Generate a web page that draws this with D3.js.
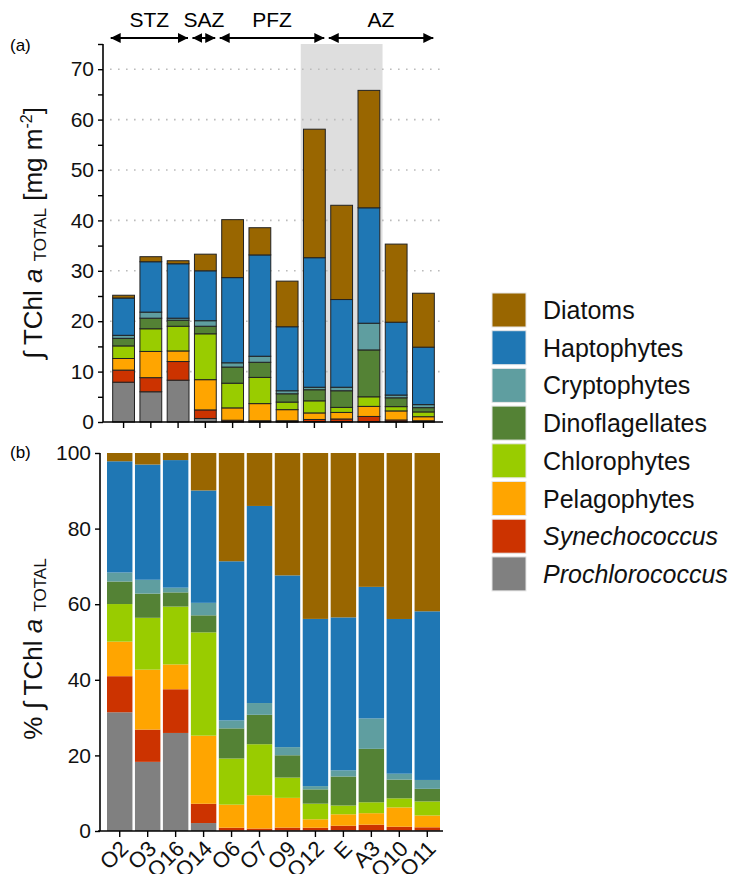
<!DOCTYPE html>
<html>
<head>
<meta charset="utf-8">
<script src="https://cdn.jsdelivr.net/npm/d3@7"></script>
<style>
  body { margin: 0; background: #fff; }
  svg { font-family: "Liberation Sans", Arial, sans-serif; }
</style>
</head>
<body>
<script>
// stations along the transect, west to east
const stations = ["O2", "O3", "O16", "O14", "O6", "O7", "O9", "O12", "E", "A3", "O10", "O11"];

// integrated Chl a per group [mg m-2] (a) and (b)
const prochlorococcus = [7.9, 6.0, 8.3, 0.7, 0.05, 0.05, 0.05, 0.1, 0.1, 0.1, 0.05, 0.05];
const synechococcus   = [2.4, 2.8, 3.7, 1.7, 0.3, 0.2, 0.2, 0.4, 0.5, 1.0, 0.35, 0.2];
const pelagophytes    = [2.3, 5.2, 2.1, 6.0, 2.45, 3.4, 2.2, 1.3, 1.3, 2.0, 1.8, 0.8];
const chlorophytes    = [2.5, 4.5, 4.9, 9.1, 4.9, 5.2, 1.5, 2.4, 1.0, 1.9, 0.85, 0.95];
const dinoflagellates = [1.5, 2.1, 1.2, 1.5, 3.2, 3.0, 1.65, 2.2, 3.3, 9.3, 1.75, 0.85];
const cryptophytes    = [0.6, 1.2, 0.4, 1.1, 0.85, 1.2, 0.6, 0.5, 0.7, 5.3, 0.55, 0.6];
const haptophytes     = [7.4, 10.0, 10.8, 9.9, 16.9, 20.1, 12.7, 25.7, 17.4, 22.9, 14.45, 11.4];
const diatoms         = [0.55, 1.0, 0.6, 3.3, 11.5, 5.4, 9.05, 25.5, 18.7, 23.3, 15.5, 10.7];

// stacking order, bottom first
const groups = ["Prochlorococcus", "Synechococcus", "Pelagophytes", "Chlorophytes",
                "Dinoflagellates", "Cryptophytes", "Haptophytes", "Diatoms"];
const series = [prochlorococcus, synechococcus, pelagophytes, chlorophytes,
                dinoflagellates, cryptophytes, haptophytes, diatoms];
const italicGroups = ["Prochlorococcus", "Synechococcus"];

// hydrographic zones
const zoneNames = ["STZ", "SAZ", "PFZ", "AZ"];
const zoneFirst = ["O2", "O14", "O6", "E"];
const zoneLast  = ["O16", "O14", "O12", "O11"];
const shadeFirst = "O12", shadeLast = "A3";

const yTicksA = [0, 5, 10, 15, 20, 25, 30, 35, 40, 45, 50, 55, 60, 65, 70, 75];
const yTicksB = [0, 20, 40, 60, 80, 100];

const color = d3.scaleOrdinal()
    .domain(groups)
    .range(["#808080", "#cc3300", "#ffa500", "#99cc00", "#548235", "#5f9ea0", "#1f77b4", "#996600"]);

const rows = stations.map(function (s, i) {
    const r = {station: s};
    groups.forEach(function (g, j) { r[g] = series[j][i]; });
    return r;
});

const width = 745, height = 874;

const svg = d3.select("body").append("svg")
    .attr("width", width)
    .attr("height", height);

// ---------- panel (a): absolute ----------
const xA = d3.scaleBand().domain(stations).range([104.5, 442.5])
    .paddingInner(0.2).paddingOuter(0.3);
const yA = d3.scaleLinear().domain([0, 75]).range([422, 44]);

const stackA = d3.stack().keys(groups)(rows);

// shaded stations
svg.append("rect")
    .attr("x", xA(shadeFirst) - xA.step() * 0.1)
    .attr("y", yA(75))
    .attr("width", xA(shadeLast) + xA.bandwidth() + xA.step() * 0.2 - xA(shadeFirst))
    .attr("height", yA(0) - yA(75))
    .attr("fill", "#dedede");

// dotted grid
svg.append("g").selectAll("line")
    .data([10, 20, 30, 40, 50, 60, 70])
    .enter().append("line")
    .attr("x1", 110).attr("x2", 442)
    .attr("y1", function (d) { return yA(d); })
    .attr("y2", function (d) { return yA(d); })
    .attr("stroke", "#bbb")
    .attr("stroke-width", 1.6)
    .attr("stroke-dasharray", "1.6,6.4");

svg.append("g").selectAll("g")
    .data(stackA)
    .enter().append("g")
    .attr("fill", function (d) { return color(d.key); })
    .selectAll("rect")
    .data(function (d) { return d; })
    .enter().append("rect")
    .attr("x", function (d) { return xA(d.data.station); })
    .attr("y", function (d) { return yA(d[1]); })
    .attr("width", xA.bandwidth())
    .attr("height", function (d) { return yA(d[0]) - yA(d[1]); })
    .attr("stroke", "#222")
    .attr("stroke-width", 1);

svg.append("g")
    .attr("transform", "translate(103,0)")
    .call(d3.axisLeft(yA).tickValues(yTicksA).tickSize(5).tickPadding(4)
        .tickFormat(function (d) { return d % 10 === 0 ? d : ""; }))
    .call(function (g) {
        g.select(".domain").attr("stroke-width", 1.6).attr("d", "M0," + yA(0) + "V" + yA(75));
        g.selectAll(".tick line").attr("stroke-width", 1.4);
        g.selectAll("text").attr("font-size", 21).attr("font-family", null).attr("fill", "#111");
    });

svg.append("g")
    .attr("transform", "translate(0," + yA(0) + ")")
    .call(d3.axisBottom(xA).tickSize(6).tickFormat(""))
    .call(function (g) {
        g.select(".domain").attr("stroke-width", 1.6).attr("d", "M103,0H443");
        g.selectAll(".tick line").attr("stroke-width", 1.4);
    });

// zone arrows
svg.append("defs").append("marker")
    .attr("id", "head")
    .attr("viewBox", "0 0 10 10")
    .attr("refX", 10).attr("refY", 5)
    .attr("markerWidth", 10).attr("markerHeight", 10)
    .attr("markerUnits", "userSpaceOnUse")
    .attr("orient", "auto-start-reverse")
    .append("path").attr("d", "M0,0L10,5L0,10Z").attr("fill", "#000");

const zones = svg.append("g");
zoneNames.forEach(function (z, i) {
    const x0 = xA(zoneFirst[i]) - 2;
    const x1 = xA(zoneLast[i]) + xA.bandwidth() - 1;
    zones.append("line")
        .attr("x1", x0).attr("x2", x1)
        .attr("y1", 38).attr("y2", 38)
        .attr("stroke", "#000").attr("stroke-width", 2)
        .attr("marker-start", "url(#head)")
        .attr("marker-end", "url(#head)");
    zones.append("text")
        .attr("x", (x0 + x1) / 2).attr("y", 27)
        .attr("text-anchor", "middle")
        .attr("font-size", 21)
        .text(z);
});

// ---------- panel (b): relative ----------
const xB = d3.scaleBand().domain(stations).range([107, 440])
    .paddingInner(0.09).paddingOuter(0);
const yB = d3.scaleLinear().domain([0, 1]).range([831, 453]);

const stackB = d3.stack().keys(groups).offset(d3.stackOffsetExpand)(rows);

svg.append("g").selectAll("g")
    .data(stackB)
    .enter().append("g")
    .attr("fill", function (d) { return color(d.key); })
    .selectAll("rect")
    .data(function (d) { return d; })
    .enter().append("rect")
    .attr("x", function (d) { return xB(d.data.station); })
    .attr("y", function (d) { return yB(d[1]); })
    .attr("width", xB.bandwidth())
    .attr("height", function (d) { return yB(d[0]) - yB(d[1]); });

svg.append("g")
    .attr("transform", "translate(100,0)")
    .call(d3.axisLeft(yB).tickValues(yTicksB.map(function (d) { return d / 100; }))
        .tickSize(5).tickPadding(4)
        .tickFormat(function (d) { return Math.round(d * 100); }))
    .call(function (g) {
        g.select(".domain").attr("stroke-width", 1.6).attr("d", "M0," + yB(0) + "V" + yB(1));
        g.selectAll(".tick line").attr("stroke-width", 1.4);
        g.selectAll("text").attr("font-size", 21).attr("font-family", null).attr("fill", "#111");
    });

svg.append("g")
    .attr("transform", "translate(0," + yB(0) + ")")
    .call(d3.axisBottom(xB).tickSize(6).tickFormat(""))
    .call(function (g) {
        g.select(".domain").attr("stroke-width", 1.6).attr("d", "M98,0H443");
        g.selectAll(".tick line").attr("stroke-width", 1.4);
    });

svg.append("g").selectAll("text")
    .data(stations)
    .enter().append("text")
    .attr("transform", function (d) {
        return "translate(" + (xB(d) + xB.bandwidth() / 2 + 10) + "," + 850 + ") rotate(-45)";
    })
    .attr("text-anchor", "end")
    .attr("font-size", 22)
    .attr("fill", "#111")
    .text(function (d) { return d; });

// ---------- axis titles & panel tags ----------
function chlTitle(t, prefix, units) {
    t.append("tspan").text(prefix + "\u222B TChl ");
    t.append("tspan").attr("font-style", "italic").text("a");
    t.append("tspan").text(" ");
    t.append("tspan").attr("font-size", 17).attr("dy", 4).text("TOTAL");
    if (units) {
        t.append("tspan").attr("dy", -4).text(" [mg m");
        t.append("tspan").attr("font-size", 16).attr("dy", -10).text("-2");
        t.append("tspan").attr("dy", 10).text("]");
    }
}

chlTitle(svg.append("text")
    .attr("transform", "translate(42,233) rotate(-90)")
    .attr("text-anchor", "middle")
    .attr("font-size", 26)
    .attr("fill", "#111"), "", true);

chlTitle(svg.append("text")
    .attr("transform", "translate(42,649) rotate(-90)")
    .attr("text-anchor", "middle")
    .attr("font-size", 26)
    .attr("fill", "#111"), "% ", false);

svg.append("text").attr("x", 10).attr("y", 51).attr("font-size", 17).text("(a)");
svg.append("text").attr("x", 10).attr("y", 458).attr("font-size", 17).text("(b)");

// ---------- legend ----------
const legend = svg.append("g").selectAll("g")
    .data(groups.slice().reverse())
    .enter().append("g")
    .attr("transform", function (d, i) { return "translate(492," + (293 + i * 37.7) + ")"; });

legend.append("rect")
    .attr("width", 34).attr("height", 34)
    .attr("fill", function (d) { return color(d); })
    .attr("stroke", "#e6e6e6")
    .attr("stroke-width", 1);

legend.append("text")
    .attr("x", 51).attr("y", 26)
    .attr("font-size", 25)
    .attr("fill", "#111")
    .attr("font-style", function (d) { return italicGroups.indexOf(d) >= 0 ? "italic" : null; })
    .text(function (d) { return d; });
</script>
</body>
</html>
